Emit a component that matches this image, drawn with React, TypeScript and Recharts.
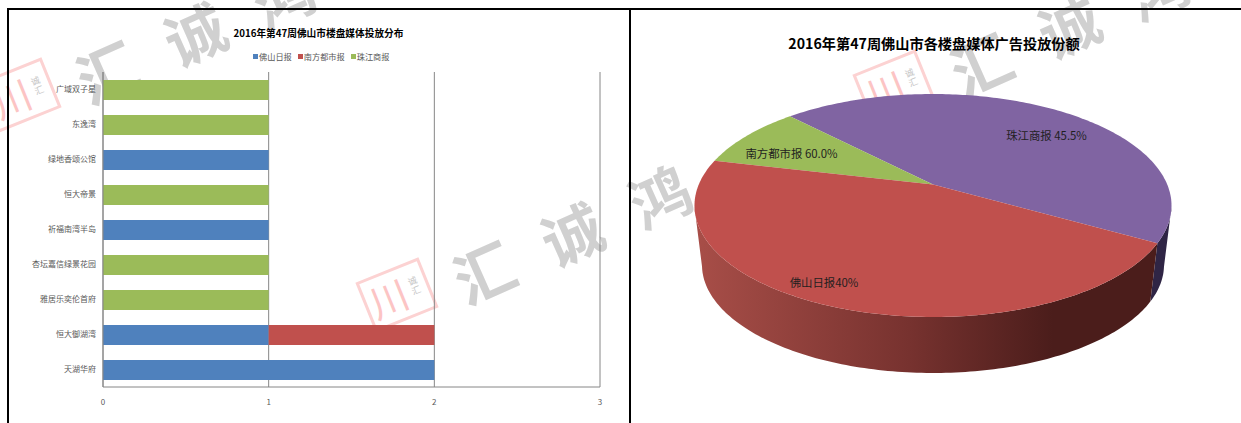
import React from 'react';
import { BarChart, Bar, XAxis, YAxis, CartesianGrid, Legend, PieChart, Pie } from 'recharts';

const FONT = '"Noto Sans CJK SC", "Noto Sans", sans-serif';

const projects = ['广域双子星', '东逸湾', '绿地香颂公馆', '恒大帝景', '祈福南湾半岛', '杏坛嘉信绿景花园', '雅居乐奕伦首府', '恒大御湖湾', '天湖华府'];
const foshanDaily = [0, 0, 1, 0, 1, 0, 0, 1, 2];
const southernMetro = [0, 0, 0, 0, 0, 0, 0, 1, 0];
const pearlRiver = [1, 1, 0, 1, 0, 1, 1, 0, 0];
const xTicks = [0, 1, 2, 3];

const pieNames = ['珠江商报', '南方都市报', '佛山日报'];
const pieValues = [5, 1, 5];
const pieLabels = ['珠江商报 45.5%', '南方都市报 60.0%', '佛山日报40%'];

const pieColors = ['#8064a2', '#9bbb59', '#c0504d'];
const wallColors = ['#2f2545', '#4b1d1b', 'url(#redWall)'];
const labelAnchors = [
  { x: 416.5, y: 135 },
  { x: 161.5, y: 153 },
  { x: 194, y: 282 },
];

const barData = projects.map((name, i) => ({
  name,
  foshan: foshanDaily[i],
  southern: southernMetro[i],
  pearl: pearlRiver[i],
}));

const pieData = pieNames.map((name, i) => ({
  name,
  value: pieValues[i],
  fill: pieColors[i],
  wall: wallColors[i],
}));

// the pie is drawn in perspective: ellipse top face, apex above its centre, slightly narrower bottom face
const TILT = 0.188;
const Y_RATIO = 111.5 / 238.5;
const BOTTOM_RX = 231;
const BOTTOM_RY = 108;
const BOTTOM_DROP = 59.5;

const unitPoint = (deg: number) => {
  const a = (deg * Math.PI) / 180;
  const d = 1 + TILT * Math.sin(a);
  return {
    u: (Math.cos(a) * Math.sqrt(1 - TILT * TILT)) / d,
    v: (Math.sin(a) + TILT) / d,
  };
};

const sweep = (from: number, to: number) => {
  const out: number[] = [];
  for (let d = from; d < to; d += 1) out.push(d);
  out.push(to);
  return out;
};

const TopFace = (props: any) => {
  const { cx, cy, outerRadius, startAngle, endAngle, fill } = props;
  const ry = outerRadius * Y_RATIO;
  const edge = sweep(startAngle, endAngle).map((d) => {
    const p = unitPoint(d);
    return `${cx + outerRadius * p.u},${cy - ry * p.v}`;
  });
  return <path d={`M${cx},${cy - ry * TILT}L${edge.join('L')}Z`} fill={fill} />;
};

const WallFace = (props: any) => {
  const { cx, cy, outerRadius, startAngle, endAngle, wall, payload } = props;
  const ry = outerRadius * Y_RATIO;
  const pts = sweep(startAngle, endAngle).map(unitPoint).filter((p) => p.v <= 0);
  if (!pts.length) return null;
  const top = pts.map((p) => `${cx + outerRadius * p.u},${cy - ry * p.v}`);
  const bottom = pts
    .slice()
    .reverse()
    .map((p) => `${cx + BOTTOM_RX * p.u},${cy + BOTTOM_DROP - BOTTOM_RY * p.v}`);
  return <path d={`M${top.join('L')}L${bottom.join('L')}Z`} fill={wall || payload?.wall} />;
};

const renderPieLabel = (props: any) => {
  const pos = labelAnchors[props.index];
  return (
    <text x={pos.x} y={pos.y} textAnchor="middle" dominantBaseline="central" fontSize={11.4} fill="#1f1f1f" fontFamily={FONT}>
      {pieLabels[props.index]}
    </text>
  );
};

const renderLegend = (props: any) => (
  <div style={{ display: 'flex', gap: 6, fontSize: 8.2, lineHeight: '10px', color: '#595959', fontFamily: FONT, whiteSpace: 'nowrap' }}>
    {props.payload.map((item: any) => (
      <span key={item.value} style={{ display: 'flex', alignItems: 'center', gap: 1 }}>
        <span style={{ width: 5, height: 5, background: item.color, display: 'inline-block' }} />
        {item.value}
      </span>
    ))}
  </div>
);

const stampCentres = [
  { x: 20, y: 95 },
  { x: 397, y: 295 },
  { x: 894, y: 87 },
];
const markChars = ['汇', '诚', '鸿'];

// anchored on the stamp centre, so each repeat of the watermark is the same shape
const Watermark = ({ x, y }: { x: number; y: number }) => (
  <div style={{ position: 'absolute', left: x, top: y, width: 0, height: 0 }}>
    <div
      style={{
        position: 'absolute',
        left: -34,
        top: -27,
        width: 62,
        height: 48,
        border: '3px solid #fcd2d2',
        transform: 'rotate(-22deg)',
        fontFamily: FONT,
      }}
    >
      <span style={{ position: 'absolute', left: 3, top: -2, fontSize: 38, lineHeight: '50px', color: '#fcc4c4' }}>川</span>
      <span style={{ position: 'absolute', left: 46, top: 12, fontSize: 9, lineHeight: '10px', color: '#c4c4c4', width: 10 }}>诚汇</span>
    </div>
    {markChars.map((c, i) => (
      <div
        key={c}
        style={{
          position: 'absolute',
          left: 86 + i * 88 - 30,
          top: -25 - i * 38 - 36,
          fontSize: 60,
          lineHeight: '72px',
          fontWeight: 700,
          color: '#d0d0d0',
          transform: 'rotate(-24deg)',
          fontFamily: FONT,
        }}
      >
        {c}
      </div>
    ))}
  </div>
);

const App: React.FC = () => {
  return (
    <div style={{ position: 'absolute', left: 0, top: 0, width: 1241, height: 423, overflow: 'hidden', background: '#fff', fontFamily: FONT }}>
      {stampCentres.map((m, i) => (
        <Watermark key={i} x={m.x} y={m.y} />
      ))}

      <div style={{ position: 'absolute', left: 7, top: 8, width: 1234, height: 2, background: '#000' }} />
      <div style={{ position: 'absolute', left: 7, top: 8, width: 2, height: 415, background: '#000' }} />
      <div style={{ position: 'absolute', left: 629, top: 8, width: 2, height: 415, background: '#000' }} />

      <div style={{ position: 'absolute', left: 0, top: 0 }}>
        <BarChart width={630} height={423} data={barData} layout="vertical" barSize={20} margin={{ top: 72, right: 30, bottom: 10, left: 3 }}>
          <text x={318.5} y={33} textAnchor="middle" dominantBaseline="central" fontSize={9.7} fontWeight={700} fill="#000" fontFamily={FONT}>
            2016年第47周佛山市楼盘媒体投放分布
          </text>
          <CartesianGrid horizontal={false} stroke="#868686" strokeWidth={1} />
          <XAxis
            type="number"
            domain={[0, 3]}
            ticks={xTicks}
            height={26}
            tickLine={false}
            tickMargin={6}
            axisLine={{ stroke: '#868686' }}
            tick={{ fontSize: 8, fill: '#595959', fontFamily: FONT }}
          />
          <YAxis
            type="category"
            dataKey="name"
            width={100}
            interval={0}
            tickLine={false}
            tickMargin={1}
            axisLine={{ stroke: '#868686' }}
            tick={{ fontSize: 8, fill: '#595959', fontFamily: FONT }}
          />
          <Legend
            layout="horizontal"
            verticalAlign="middle"
            align="center"
            content={renderLegend}
            wrapperStyle={{ top: 51, left: 253, width: 140 }}
          />
          <Bar dataKey="foshan" name="佛山日报" stackId="a" fill="#4f81bd" isAnimationActive={false} />
          <Bar dataKey="southern" name="南方都市报" stackId="a" fill="#c0504d" isAnimationActive={false} />
          <Bar dataKey="pearl" name="珠江商报" stackId="a" fill="#9bbb59" isAnimationActive={false} />
        </BarChart>
      </div>

      <div style={{ position: 'absolute', left: 630, top: 0 }}>
        <PieChart width={611} height={423} margin={{ top: 0, right: 0, bottom: 0, left: 0 }}>
          <defs>
            <linearGradient id="redWall" gradientUnits="userSpaceOnUse" x1="65" y1="0" x2="542" y2="0">
              <stop offset="0" stopColor="#a84e48" />
              <stop offset="0.45" stopColor="#77322f" />
              <stop offset="0.75" stopColor="#4b1d1b" />
              <stop offset="1" stopColor="#4b1d1b" />
            </linearGradient>
          </defs>
          <text x={304} y={43} textAnchor="middle" dominantBaseline="central" fontSize={14.2} fontWeight={700} fill="#000" fontFamily={FONT}>
            2016年第47周佛山市各楼盘媒体广告投放份额
          </text>
          <Pie
            data={pieData}
            dataKey="value"
            cx={303}
            cy={205.5}
            outerRadius={238.5}
            startAngle={-29.7}
            endAngle={330.3}
            stroke="none"
            shape={WallFace}
            isAnimationActive={false}
          />
          <Pie
            data={pieData}
            dataKey="value"
            cx={303}
            cy={205.5}
            outerRadius={238.5}
            startAngle={-29.7}
            endAngle={330.3}
            stroke="none"
            shape={TopFace}
            label={renderPieLabel}
            labelLine={false}
            isAnimationActive={false}
          />
        </PieChart>
      </div>
    </div>
  );
};

export default App;
